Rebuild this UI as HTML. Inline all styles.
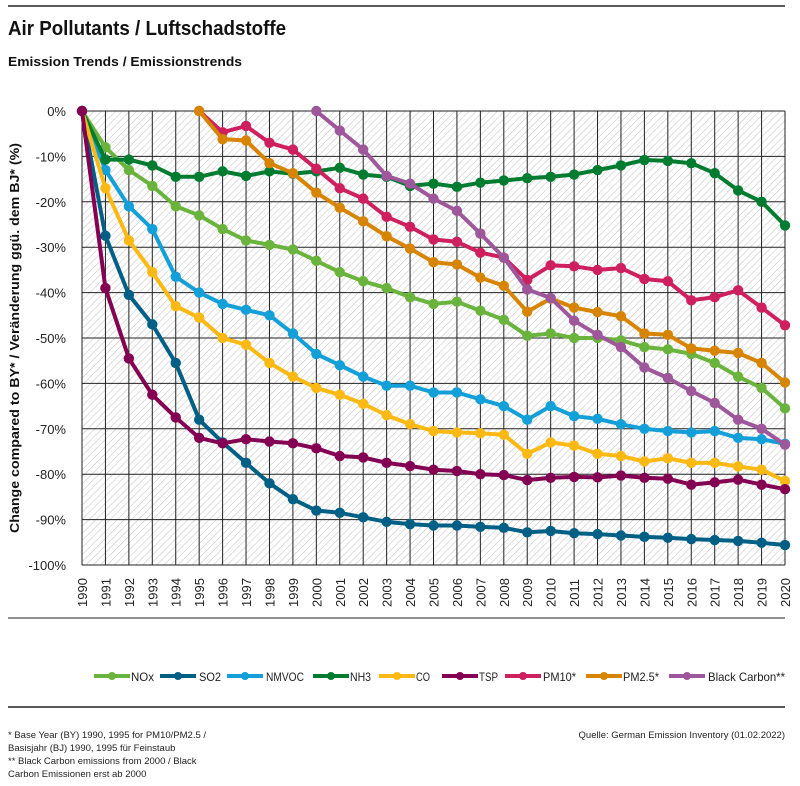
<!DOCTYPE html>
<html><head><meta charset="utf-8"><style>
html,body{margin:0;padding:0;background:#fff;}
svg{display:block;font-family:"Liberation Sans",sans-serif;}
</style></head><body>
<svg id="s" width="800" height="786" xmlns="http://www.w3.org/2000/svg">
<defs>
<pattern id="h" patternUnits="userSpaceOnUse" width="5" height="5" patternTransform="rotate(45)">
<rect width="5" height="5" fill="#fff"/><line x1="0" y1="0" x2="0" y2="5" stroke="#c8c8c8" stroke-width="1.2"/>
</pattern>
</defs>
<line x1="8" y1="6" x2="785" y2="6" stroke="#222" stroke-width="1.5"/>
<text x="8" y="35" font-size="20" font-weight="bold" fill="#111" textLength="278" lengthAdjust="spacingAndGlyphs">Air Pollutants / Luftschadstoffe</text>
<text x="8" y="66" font-size="13" font-weight="bold" fill="#111" textLength="234" lengthAdjust="spacingAndGlyphs">Emission Trends / Emissionstrends</text>
<rect x="82" y="111" width="703" height="454" fill="url(#h)"/>
<g id="grid"></g>
<g id="lab"></g>
<text transform="translate(19,338) rotate(-90)" text-anchor="middle" font-size="13" font-weight="bold" fill="#111" textLength="390" lengthAdjust="spacingAndGlyphs">Change compared to BY* / Veränderung ggü. dem BJ* (%)</text>
<g id="ser"></g>
<line x1="8" y1="618" x2="785" y2="618" stroke="#222" stroke-width="1"/>
<g id="leg"></g>
<line x1="8" y1="707" x2="785" y2="707" stroke="#222" stroke-width="1.5"/>
<g font-size="9.5" fill="#222">
<text x="8" y="738">* Base Year (BY) 1990, 1995 for PM10/PM2.5 /</text>
<text x="8" y="751">Basisjahr (BJ) 1990, 1995 für Feinstaub</text>
<text x="8" y="764">** Black Carbon emissions  from 2000 / Black</text>
<text x="8" y="777">Carbon Emissionen erst ab 2000</text>
<text x="785" y="738" text-anchor="end">Quelle: German Emission Inventory (01.02.2022)</text>
</g>
</svg>
<script>
var NS="http://www.w3.org/2000/svg";
function el(p,t,a,txt){var e=document.createElementNS(NS,t);for(var k in a)e.setAttribute(k,a[k]);if(txt!=null)e.textContent=txt;p.appendChild(e);return e;}
var X0=82,DX=703/30,Y0=111,DY=4.54;
function X(i){return X0+i*DX;} function Y(v){return Y0-v*DY;}
var g=document.getElementById('grid'),lab=document.getElementById('lab');
for(var i=0;i<=30;i++){el(g,'line',{x1:X(i),y1:Y0,x2:X(i),y2:565,stroke:'#222','stroke-width':1});
 el(lab,'text',{transform:'translate('+(X(i)+5)+',607) rotate(-90)','font-size':'13',fill:'#222'},String(1990+i));}
for(var j=0;j<=10;j++){el(g,'line',{x1:X0,y1:Y(-10*j),x2:785,y2:Y(-10*j),stroke:'#222','stroke-width':1});
 el(lab,'text',{x:66,y:Y(-10*j)+5,'text-anchor':'end','font-size':'13',fill:'#222'},(j?'-':'')+(10*j)+'%');}
var S=[
['NOx','#6ab43e',0,[0,-8,-13,-16.5,-21,-23,-26,-28.5,-29.5,-30.5,-33,-35.5,-37.5,-39,-41,-42.5,-42,-44,-46,-49.5,-49,-50,-50,-50.5,-52,-52.5,-53.5,-55.5,-58.5,-61,-65.5]],
['SO2','#005f85',0,[0,-27.5,-40.5,-47,-55.5,-68,-73,-77.5,-82,-85.5,-88,-88.5,-89.5,-90.5,-91,-91.3,-91.3,-91.6,-91.8,-92.8,-92.5,-93,-93.2,-93.5,-93.8,-94,-94.3,-94.5,-94.7,-95.1,-95.6]],
['NMVOC','#139fd8',0,[0,-13,-21,-26,-36.5,-40,-42.5,-43.8,-45,-49,-53.5,-56,-58.5,-60.5,-60.5,-62,-62,-63.5,-65,-68,-65,-67.2,-67.8,-69,-70,-70.5,-70.8,-70.5,-72,-72.3,-73.3]],
['NH3','#007c30',0,[0,-10.7,-10.7,-12,-14.5,-14.5,-13.3,-14.3,-13.3,-13.8,-13.3,-12.5,-14,-14.5,-16.5,-16,-16.7,-15.8,-15.3,-14.8,-14.5,-14,-13,-12,-10.8,-11,-11.5,-13.7,-17.5,-20,-25.2]],
['CO','#fdb913',0,[0,-17,-28.5,-35.5,-43,-45.5,-50,-51.5,-55.5,-58.5,-61,-62.5,-64.5,-67,-69,-70.5,-70.8,-71,-71.3,-75.5,-73,-73.7,-75.5,-76,-77.2,-76.5,-77.5,-77.5,-78.3,-79,-81.5]],
['TSP','#830053',0,[0,-39,-54.5,-62.5,-67.5,-72,-73.2,-72.3,-72.8,-73.2,-74.3,-76,-76.3,-77.5,-78.2,-79,-79.3,-80,-80.2,-81.3,-80.8,-80.6,-80.7,-80.3,-80.8,-81,-82.3,-81.8,-81.2,-82.3,-83.3]],
['PM10*','#ce1f5e',5,[0,-4.7,-3.3,-7,-8.5,-12.7,-17,-19.3,-23.3,-25.5,-28.3,-28.8,-31.2,-32.3,-37.2,-34,-34.2,-35,-34.6,-37,-37.5,-41.7,-41,-39.5,-43.3,-47.2]],
['PM2.5*','#d78400',5,[0,-6.2,-6.5,-11.5,-13.7,-18,-21.3,-24.3,-27.6,-30.3,-33.3,-33.8,-36.7,-38.5,-44.2,-41.3,-43.3,-44.3,-45.2,-49,-49.3,-52.3,-52.8,-53.3,-55.5,-59.8]],
['Black Carbon**','#9d579a',10,[0,-4.3,-8.5,-14.3,-16,-19.3,-22,-27,-32.3,-39.3,-41.2,-46.2,-49.3,-52,-56.5,-58.8,-61.7,-64.3,-68,-70,-73.5]]
];
var sg=document.getElementById('ser');
S.forEach(function(s){var pts=s[3].map(function(v,k){return X(s[2]+k).toFixed(1)+','+Y(v).toFixed(1);}).join(' ');
 el(sg,'polyline',{points:pts,fill:'none',stroke:s[1],'stroke-width':4,'stroke-linejoin':'round'});
 s[3].forEach(function(v,k){el(sg,'circle',{cx:X(s[2]+k),cy:Y(v),r:5.2,fill:s[1]});});});
var lg=document.getElementById('leg');
var L=[[94,131,23],[160,199,22],[227,266,38],[313,350,21],[379,416,14],[442,479,19],[505,543,33],[586,623,36],[669,708,77]];
S.forEach(function(s,k){var a=L[k][0];
 el(lg,'line',{x1:a,y1:676,x2:a+36,y2:676,stroke:s[1],'stroke-width':4});
 el(lg,'circle',{cx:a+18,cy:676,r:4,fill:s[1]});
 el(lg,'text',{x:L[k][1],y:681,'font-size':'12',fill:'#222',textLength:L[k][2],lengthAdjust:'spacingAndGlyphs'},s[0]);});
</script>
</body></html>
